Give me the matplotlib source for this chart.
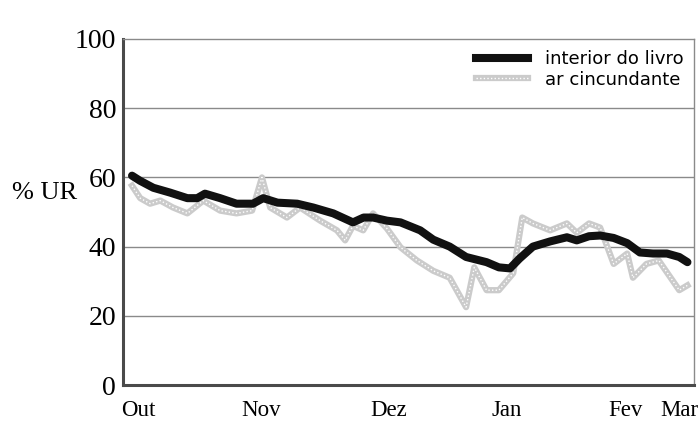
import matplotlib
matplotlib.use("Agg")
import matplotlib.pyplot as plt
from matplotlib.lines import Line2D

# Data (x in days from start of October)
interior_days = [-1.5, 0.5, 3.7, 7.8, 12, 14.4, 16.3, 20, 24, 28, 30.5, 34, 38.8, 42.7, 47.6,
                 52.4, 55, 57.3, 60.7, 64, 68.8, 72, 76, 80, 85, 88, 90.7, 93, 96.3, 100.5,
                 104.6, 107, 110, 112.7, 116, 119.3, 122.4, 125.6, 129, 132, 134]
interior_rh = [60.5, 59, 57, 55.6, 54, 54, 55.3, 54, 52.4, 52.4, 54, 52.7, 52.4, 51.3, 49.6,
               47, 48.4, 48.4, 47.5, 47, 44.7, 42, 40, 37, 35.5, 34, 33.7, 36.5, 40, 41.5,
               42.7, 41.8, 43, 43.2, 42.5, 41, 38.3, 38, 38, 37, 35.5]

air_days = [-1.5, 0.5, 2.9, 5.4, 8.5, 12, 15.9, 20, 24, 27.8, 30.2, 32.2, 36.3, 39.5, 44.4,
            48.5, 50.5, 52.4, 54.9, 57.3, 60.7, 64, 68, 72, 76, 80, 82, 85, 88, 91.5, 93.7,
            96.3, 100.5, 104.6, 107, 110, 112.7, 116, 119.3, 120.7, 124, 127, 132, 134]
air_rh = [57.6, 54, 52.4, 53.3, 51.3, 49.6, 53.3, 50.4, 49.6, 50.4, 60, 51.3, 48.4, 51.3, 47.5,
          44.7, 41.8, 46, 44.7, 49.6, 45.2, 39.8, 36, 33, 31, 22.5, 34, 27.4, 27.4, 32.3, 48.4,
          46.7, 44.7, 46.7, 44, 46.7, 45.5, 35, 38, 31, 35, 36, 27.4, 28.8]

month_labels = ["Out", "Nov", "Dez", "Jan", "Fev", "Mar"]
month_pos = [0, 30, 61, 90, 119, 132]
y_ticks = [0, 20, 40, 60, 80, 100]

GRAY = "#cbcbcb"

fig = plt.figure(figsize=(6.99, 4.23), dpi=100)
ax = fig.add_axes([123/699, 1-385/423, (694-123)/699, (385-39)/423])

ax.set_xlim(-3.7, 135.6)
ax.set_ylim(0, 100)

for y in [20, 40, 60, 80]:
    ax.axhline(y, color="#8a8a8a", lw=1.0, zorder=1)

ax.plot(air_days, air_rh, color=GRAY, lw=4.5, solid_joinstyle="round", zorder=2)
ax.plot(air_days, air_rh, color="white", lw=1.0, ls=(0, (1, 1.6)), zorder=3)
ax.plot(interior_days, interior_rh, color="#111111", lw=5.8, solid_capstyle="round",
        solid_joinstyle="round", zorder=4)

for s in ["left", "bottom"]:
    ax.spines[s].set_color("#4a4a4a")
    ax.spines[s].set_linewidth(2.2)
for s in ["top", "right"]:
    ax.spines[s].set_color("#8a8a8a")
    ax.spines[s].set_linewidth(1.0)

ax.set_yticks(y_ticks)
ax.set_yticklabels([str(v) for v in y_ticks], fontfamily="Liberation Serif", fontsize=20)
ax.set_xticks(month_pos)
ax.set_xticklabels(month_labels, fontfamily="Liberation Serif", fontsize=16.5)
ax.tick_params(axis="both", length=0)
ax.tick_params(axis="y", pad=5)
ax.tick_params(axis="x", pad=11)

fig.text(12/699, 1-193/423, "% UR", fontfamily="Liberation Serif", fontsize=19,
         ha="left", va="center")

h_black = Line2D([0], [0], color="#111111", lw=5.8)
h_gray = (Line2D([0], [0], color=GRAY, lw=4.5),
          Line2D([0], [0], color="white", lw=1.0, ls=(0, (1, 1.6))))
leg = ax.legend([h_black, h_gray], ["interior do livro", "ar cincundante"], loc="upper right",
                bbox_to_anchor=(1.0, 1.0), frameon=False,
                prop={"family": "DejaVu Sans", "size": 13},
                handlelength=2.9, handletextpad=0.9, labelspacing=0.15,
                borderaxespad=0.2)

fig.savefig("out.png", dpi=100)
